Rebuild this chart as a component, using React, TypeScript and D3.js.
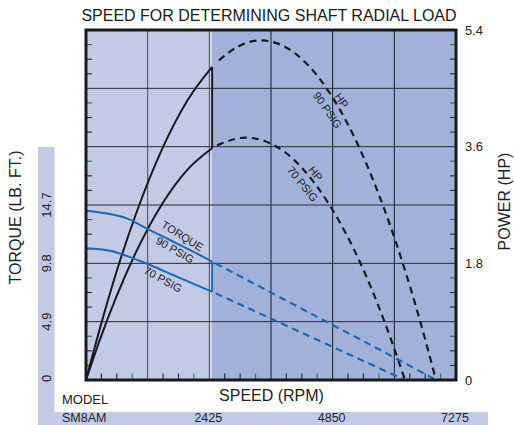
import React from "react";
import * as d3 from "d3";

// ---------- data ----------
const title = "SPEED FOR DETERMINING SHAFT RADIAL LOAD";
const speedLabels = ["2425", "4850", "7275"];
const speedLabelValues = [2425, 4850, 7275];
const modelName = "SM8AM";
const powerTicks = [0, 1.8, 3.6, 5.4];
const torqueTicks = [0, 4.9, 9.8, 14.7];

// [speed rpm, horsepower]
const hp90Solid: [number, number][] = [
  [0, 0], [300, 0.87], [600, 1.67], [1000, 2.6], [1500, 3.57], [2000, 4.32], [2480, 4.83],
];
const hp90Dashed: [number, number][] = [
  [2615, 4.93], [3000, 5.15], [3440, 5.24], [4000, 5.1], [4500, 4.74], [5000, 4.16],
  [5500, 3.36], [6000, 2.34], [6500, 1.1], [6882, 0],
];
const hp70Solid: [number, number][] = [
  [0, 0], [300, 0.68], [600, 1.29], [1000, 2.0], [1500, 2.72], [2000, 3.25], [2480, 3.575],
];
const hp70Dashed: [number, number][] = [
  [2577, 3.62], [3136, 3.74], [3500, 3.69], [4000, 3.46], [4500, 3.03], [5000, 2.42],
  [5500, 1.62], [6000, 0.62], [6272, 0],
];
// [speed rpm, torque lb-ft]
const torque90Solid: [number, number][] = [
  [0, 14.22], [472, 13.94], [800, 13.58], [1225, 12.66], [1652, 11.76], [2110, 10.78], [2480, 9.95],
];
const torque90Dashed: [number, number][] = [
  [2480, 9.95], [4640, 5.09], [6115, 1.77], [6882, 0],
];
const torque70Solid: [number, number][] = [
  [0, 11.06], [472, 10.86], [930, 10.22], [1258, 9.66], [1783, 8.68], [2480, 7.42],
];
const torque70Dashed: [number, number][] = [
  [2480, 7.42], [4601, 3.27], [6272, 0],
];
const cutoffSpeed = 2480;

// ---------- layout ----------
const W = 514, H = 425;
const L = 86, R = 456, T = 30, B = 380;
const FONT = "'Liberation Sans', Arial, Helvetica, sans-serif";
const LIGHT = "#c2cae6";
const DARK = "#a1b1d9";
const BLUE = "#1a6bb6";
const BLACK = "#1a1a1a";
const GREEN = "#2e7a4c";

export default function App() {
  const x = d3.scaleLinear().domain([0, 7275]).range([L, R]);
  const yP = d3.scaleLinear().domain([0, 5.4]).range([B, T]);
  const yT = d3.scaleLinear().domain([0, 29.4]).range([B, T]);

  const lineP = d3.line<[number, number]>().x(d => x(d[0])).y(d => yP(d[1])).curve(d3.curveMonotoneX);
  const lineT = d3.line<[number, number]>().x(d => x(d[0])).y(d => yT(d[1])).curve(d3.curveMonotoneX);

  const vGrid = d3.range(1, 6).map(i => i * 1212.5);
  const hGrid = d3.range(1, 6).map(i => i * 0.9);
  const yMinor = d3.range(1, 24).filter(i => i % 4 !== 0);
  const xMinor = d3.range(1, 24).filter(i => i % 4 !== 0);

  const split = x(2425);

  return (
    <svg width={W} height={H} style={{ position: "absolute", left: 0, top: 0 }} fontFamily={FONT}>
      <rect x={0} y={0} width={W} height={H} fill="#fff" />
      {/* side bands */}
      <rect x={38} y={147} width={16.5} height={H - 147} fill={LIGHT} />
      <rect x={38} y={412} width={450} height={H - 412} fill={LIGHT} />

      {/* plot backgrounds */}
      <rect x={L} y={T} width={split + 1 - L} height={B - T} fill={LIGHT} />
      <rect x={split + 1} y={T} width={R - split - 1} height={B - T} fill={DARK} />
      <line x1={split + 1.8} x2={split + 1.8} y1={T} y2={B} stroke="#d6dcf0" strokeWidth={1.6} />

      {/* grid */}
      {vGrid.map((v, i) => (
        <line key={"vg" + i} x1={x(v)} x2={x(v)} y1={T} y2={B}
          stroke={v <= 2425 ? "#4a4a55" : "#1c1c22"} strokeWidth={1} />
      ))}
      {hGrid.map((v, i) => (
        <line key={"hg" + i} x1={L} x2={R} y1={yP(v)} y2={yP(v)} stroke="#2a2a30" strokeWidth={1} />
      ))}

      {/* minor ticks */}
      {yMinor.map(i => {
        const yy = yT(i * 1.225);
        const c = i % 4 === 3 ? GREEN : "#333";
        return (
          <g key={"yt" + i}>
            <line x1={L} x2={L + 6} y1={yy} y2={yy} stroke={c} strokeWidth={1.2} />
            <line x1={R - 6} x2={R} y1={yy} y2={yy} stroke={c} strokeWidth={1.2} />
          </g>
        );
      })}
      {xMinor.map(i => {
        const xx = x(i * 303.125);
        const c = i % 4 === 3 ? GREEN : "#333";
        return <line key={"xt" + i} x1={xx} x2={xx} y1={B} y2={B - 6.5} stroke={c} strokeWidth={1.2} />;
      })}

      {/* HP curves */}
      <path d={lineP(hp90Solid) || ""} fill="none" stroke={BLACK} strokeWidth={2} />
      <path d={lineP(hp70Solid) || ""} fill="none" stroke={BLACK} strokeWidth={2} />
      <line x1={x(cutoffSpeed)} x2={x(cutoffSpeed)} y1={yP(4.83)} y2={yP(3.575)} stroke={BLACK} strokeWidth={2} />
      <path d={lineP(hp90Dashed) || ""} fill="none" stroke={BLACK} strokeWidth={2.2} strokeDasharray="7 5" />
      <path d={lineP(hp70Dashed) || ""} fill="none" stroke={BLACK} strokeWidth={2.2} strokeDasharray="7 5" />

      {/* Torque curves */}
      <path d={lineT(torque90Solid) || ""} fill="none" stroke={BLUE} strokeWidth={2} />
      <path d={lineT(torque70Solid) || ""} fill="none" stroke={BLUE} strokeWidth={2} />
      <line x1={x(cutoffSpeed)} x2={x(cutoffSpeed)} y1={yT(9.95)} y2={yT(7.42)} stroke={BLUE} strokeWidth={2} />
      <path d={lineT(torque90Dashed) || ""} fill="none" stroke={BLUE} strokeWidth={2.2} strokeDasharray="7 5" strokeDashoffset={8} />
      <path d={lineT(torque70Dashed) || ""} fill="none" stroke={BLUE} strokeWidth={2.2} strokeDasharray="7 5" strokeDashoffset={8} />

      {/* curve labels */}
      <g fontSize={11} fill="#222" textAnchor="middle">
        <text transform="translate(341.5,100.5) rotate(55)" dy="0.35em">HP</text>
        <text transform="translate(327.5,110) rotate(55)" dy="0.35em">90 PSIG</text>
        <text transform="translate(315.5,173.5) rotate(51)" dy="0.35em">HP</text>
        <text transform="translate(302.5,184) rotate(51)" dy="0.35em">70 PSIG</text>
        <text transform="translate(182.5,236) rotate(32)" dy="0.35em">TORQUE</text>
        <text transform="translate(175,250) rotate(30)" dy="0.35em">90 PSIG</text>
        <text transform="translate(163,279.5) rotate(29)" dy="0.35em">70 PSIG</text>
      </g>

      {/* frame */}
      <rect x={L} y={T} width={R - L} height={B - T} fill="none" stroke={BLACK} strokeWidth={3} />

      {/* title */}
      <text x={269} y={20.5} fontSize={16} textAnchor="middle" fill="#1a1a1a">{title}</text>

      {/* right axis */}
      {powerTicks.map((v, i) => (
        <text key={"pt" + i} x={465} y={yP(v) + 4.7} fontSize={13} fill="#222">{v === 0 ? "0" : v.toFixed(1)}</text>
      ))}
      <text transform="translate(510,201.5) rotate(-90)" fontSize={16} textAnchor="middle" fill="#222">POWER (HP)</text>

      {/* left axis */}
      {torqueTicks.map((v, i) => (
        <text key={"tt" + i} transform={`translate(51,${yT(v) - (v === 0 ? 1.5 : 0)}) rotate(-90)`} fontSize={13}
          textAnchor="middle" fill="#222">{v === 0 ? "0" : v.toFixed(1)}</text>
      ))}
      <text transform="translate(21,217.5) rotate(-90)" fontSize={16} textAnchor="middle" fill="#222">TORQUE (LB. FT.)</text>

      {/* bottom */}
      <text x={271.5} y={401} fontSize={16} textAnchor="middle" fill="#222">SPEED (RPM)</text>
      <text x={62} y={404} fontSize={13} fill="#222">MODEL</text>
      <text x={62} y={422} fontSize={12.5} fill="#222">{modelName}</text>
      {speedLabels.map((s, i) => (
        <text key={"sl" + i} x={x(speedLabelValues[i]) - 1} y={422} fontSize={12.5} textAnchor="middle" fill="#222">{s}</text>
      ))}
    </svg>
  );
}
